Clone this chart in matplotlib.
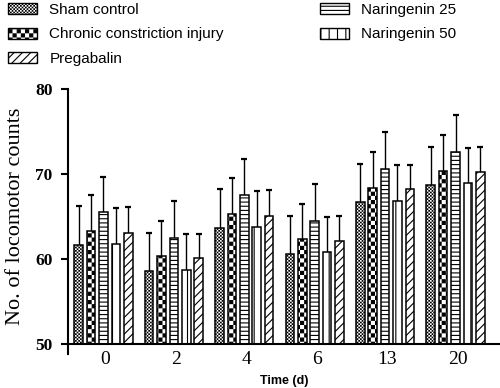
import warnings
import numpy as np
import matplotlib
matplotlib.use("Agg")
import matplotlib.pyplot as plt
import matplotlib.hatch as mhatch
from matplotlib.path import Path
from matplotlib.patches import Patch

warnings.filterwarnings("ignore")

# =========================
# 1. DATA
# =========================
days = ["0", "2", "4", "6", "13", "20"]

labels = ["Sham control", "Chronic constriction injury", "Naringenin 25",
          "Naringenin 50", "Pregabalin"]

sham_mean = [61.6, 58.6, 63.6, 60.6, 66.7, 68.7]
sham_sd = [4.6, 4.5, 4.6, 4.5, 4.5, 4.5]

cci_mean = [63.3, 60.3, 65.3, 62.3, 68.4, 70.4]
cci_sd = [4.2, 4.2, 4.2, 4.2, 4.2, 4.2]

nar25_mean = [65.5, 62.5, 67.5, 64.5, 70.6, 72.6]
nar25_sd = [4.2, 4.3, 4.3, 4.3, 4.3, 4.3]

nar50_mean = [61.8, 58.7, 63.8, 60.8, 66.8, 68.9]
nar50_sd = [4.2, 4.3, 4.2, 4.2, 4.3, 4.2]

preg_mean = [63.1, 60.1, 65.1, 62.1, 68.2, 70.2]
preg_sd = [3.0, 2.9, 3.0, 3.0, 2.9, 3.0]


# =========================
# 2. CHECKERBOARD HATCH ('c')
# =========================
class CheckerHatch(mhatch.HatchPatternBase):
    def __init__(self, hatch, density):
        self.n = hatch.count("c") * density
        if self.n % 2:
            self.n += 1
        self.num_vertices = (self.n * self.n // 2) * 5

    def set_vertices_and_codes(self, vertices, codes):
        s = 1.0 / self.n
        g = 0.0056  # half of hatch line width
        parts = []
        for i in range(self.n):
            for j in range(self.n):
                if (i + j) % 2 == 0:
                    x0, y0 = j * s + g, i * s + g
                    x1, y1 = (j + 1) * s - g, (i + 1) * s - g
                    parts.append([[x0, y0], [x1, y0], [x1, y1], [x0, y1], [x0, y0]])
        vertices[:] = np.array(parts).reshape(-1, 2)
        codes[:] = np.tile([Path.MOVETO, Path.LINETO, Path.LINETO,
                            Path.LINETO, Path.CLOSEPOLY], len(parts))


mhatch._hatch_types.append(CheckerHatch)

plt.rcParams["hatch.linewidth"] = 0.8
plt.rcParams["font.family"] = "Liberation Serif"

hatches = ["c" * 10, "c" * 4, "----", "||", "////"]
means = [sham_mean, cci_mean, nar25_mean, nar50_mean, preg_mean]
sds = [sham_sd, cci_sd, nar25_sd, nar50_sd, preg_sd]

# =========================
# 3. PLOT
# =========================
fig = plt.figure(figsize=(5, 3.88), dpi=100)
ax = fig.add_axes([0.136, 0.1134, 0.864, 0.6572])

x = np.arange(len(days))
pitch = 0.176
width = 0.122

for k in range(5):
    xs = x + (k - 2) * pitch
    ax.bar(xs, means[k], width, bottom=0, facecolor="white", edgecolor="black",
           linewidth=1.1, hatch=hatches[k], zorder=2)
    eb = ax.errorbar(xs, means[k], yerr=[np.zeros(len(days)), sds[k]], fmt="none",
                     ecolor="black", elinewidth=1.0, capsize=2.0, capthick=1.6,
                     zorder=1)
    eb[1][0].set_visible(False)

ax.set_ylim(50, 80)
ax.set_xlim(-0.504, 5.632)
ax.set_yticks([50, 60, 70, 80])
ax.set_xticks(x + 0.03)
ax.set_xticklabels(days, fontsize=14)
for t in ax.get_yticklabels():
    t.set_fontweight("bold")
    t.set_fontsize(12.5)

ax.spines["top"].set_visible(False)
ax.spines["right"].set_visible(False)
ax.spines["left"].set_linewidth(1.5)
ax.spines["bottom"].set_linewidth(1.5)
ax.spines["left"].set_bounds(48.8, 80)
ax.tick_params(axis="y", direction="out", length=5, width=1.5, pad=6)
ax.tick_params(axis="x", length=0, pad=5)

ax.set_ylabel("No. of locomotor counts", fontsize=16, labelpad=7)
ax.set_xlabel("Time (d)", fontsize=9, fontweight="bold",
              family="Liberation Sans", labelpad=5)

# legend: order as in the reference
order = [0, 1, 4, 2, 3]
handles = [Patch(facecolor="white", edgecolor="black", linewidth=1.0,
                 hatch=hatches[i], label=labels[i]) for i in order]
fig.legend(handles=handles, loc="upper left", bbox_to_anchor=(0.01, 1.0),
           ncol=2, frameon=False, prop={"family": "Liberation Sans", "size": 11},
           handlelength=1.9, handleheight=0.75, handletextpad=0.8,
           labelspacing=0.68, columnspacing=6.3, borderaxespad=0, borderpad=0.2)

plt.savefig("out.png", dpi=100)
